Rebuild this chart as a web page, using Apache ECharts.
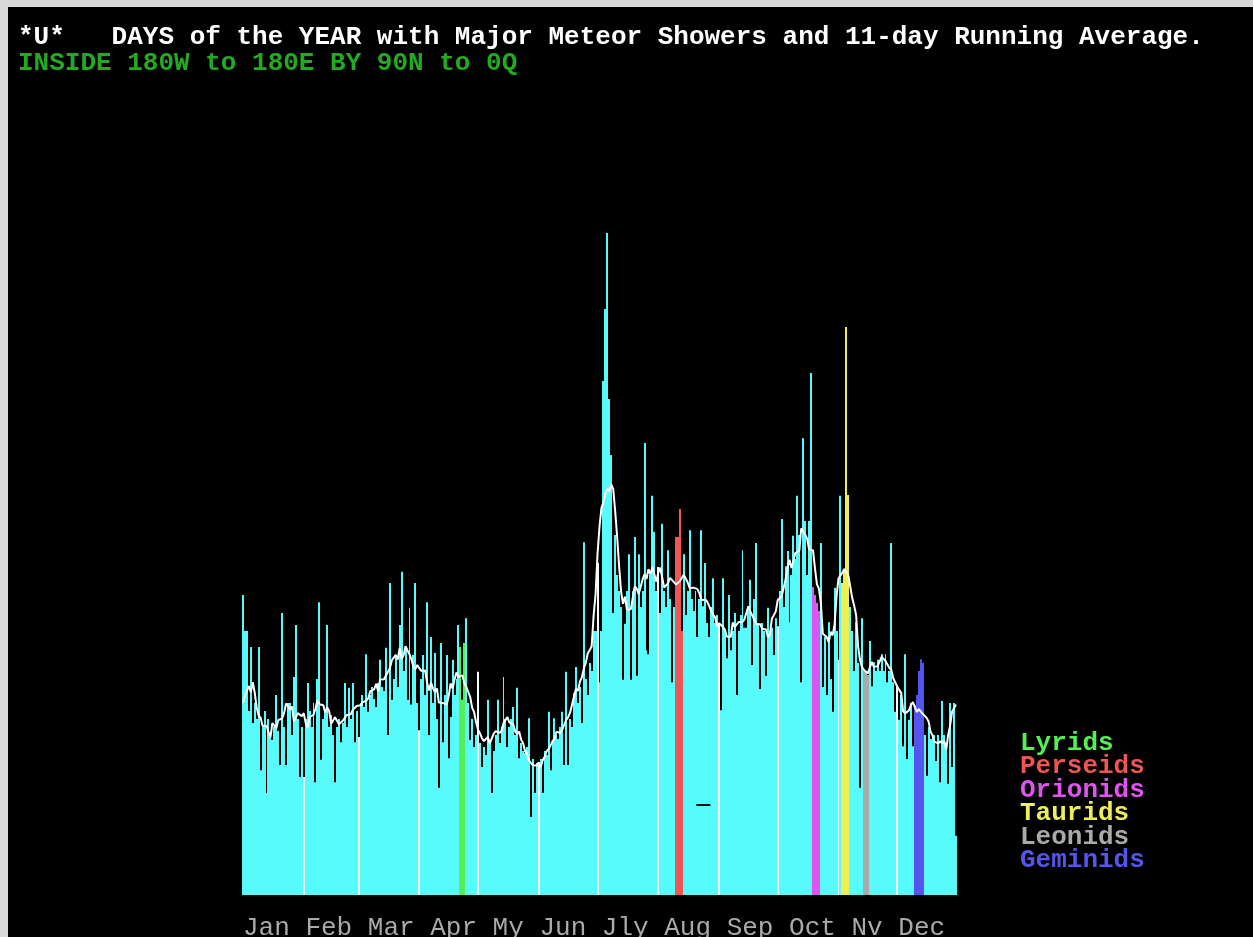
<!DOCTYPE html>
<html>
<head>
<meta charset="utf-8">
<script src="https://cdn.jsdelivr.net/npm/echarts/dist/echarts.min.js"></script>
<style>
  html, body { margin: 0; padding: 0; background: #d9d9d9; overflow: hidden; }
  #chart { position: absolute; left: 8px; top: 7px; width: 1245px; height: 930px; background: #000; }
</style>
</head>
<body>
<div id="chart"></div>
<script>
// Month tick labels (as printed on the original DOS chart) and month lengths
const monthLabels = ['Jan', 'Feb', 'Mar', 'Apr', 'My', 'Jun', 'Jly', 'Aug', 'Sep', 'Oct', 'Nv', 'Dec'];
const monthLengths = [31, 28, 31, 30, 31, 30, 31, 31, 30, 31, 30, 31];

// Daily counts, one array per month
const jan = [37.5, 33, 33, 23, 31, 21.5, 24, 22, 31, 15.6, 21, 23, 12.75, 22, 20, 19.4, 21, 25, 20.5, 16.25, 35.25, 21, 16.25, 24, 24, 20, 27.25, 33.75, 22, 14.75, 21];
const feb = [14.75, 22, 26.5, 23, 21, 24, 14.1, 27, 36.6, 16.9, 22, 23, 33.75, 21, 22.5, 20, 14.1, 21, 22, 19.1, 21.5, 26.5, 21, 25.9, 22, 26.5, 19.1, 23];
const mar = [19.75, 24, 25, 23.5, 30.1, 22.9, 25, 26, 24.5, 23.5, 26.5, 29.4, 26, 25.5, 30.9, 20, 39, 24.4, 27, 29.75, 26, 33.75, 40.4, 28, 31, 24.4, 35.9, 23.8, 30, 39, 24];
const apr = [20.6, 27, 30, 25, 36.6, 20, 32.25, 24, 30.25, 22, 13.4, 31.5, 19.1, 25, 30, 17.1, 22.25, 29.4, 25, 27, 33.75, 31, 24.4, 31.5, 34.6, 24, 19.4, 22, 18.5, 20];
const may = [27.9, 19, 16, 18.5, 17.5, 24.4, 19, 12.75, 18, 20, 24.4, 19, 21, 27.25, 22, 18.5, 21, 22, 23.5, 20, 25.9, 17.1, 19, 18, 17.75, 18.5, 22.1, 9.75, 17, 12.75, 16.5];
const jun = [16.25, 17, 12.75, 18, 17.5, 22.9, 15.6, 19, 22.1, 20, 19.5, 21, 22.9, 16.25, 27.9, 16.25, 22, 21, 25.25, 28.5, 24, 26, 21.5, 44.1, 27, 25, 29, 28, 33, 33];
const jul = [41.5, 26.6, 33, 64.25, 73.25, 82.75, 62, 55, 35.25, 45, 40, 38, 36, 26.9, 33.9, 38, 42.6, 26.9, 38, 44.75, 27.4, 42.6, 36, 38, 56.5, 30.6, 30.1, 40, 49.9, 45.4, 38];
const aug = [41, 35.25, 46.4, 38, 36, 43.1, 37, 26.6, 36, 44.75, 44.75, 48.25, 33, 42.6, 35, 38, 45.6, 37, 35.5, 38, 32.25, 37, 45.6, 36.1, 41.5, 34, 32.25, 36, 39.6, 34, 35];
const sep = [33.9, 23.1, 39.6, 33, 29.6, 37.5, 30.6, 33, 35.25, 25, 33, 35, 43.1, 33.4, 33.4, 36, 39.4, 28.75, 37, 44, 34, 25.75, 34, 33, 27.4, 35.9, 33, 33.4, 30, 34.6];
const oct = [33.6, 38, 47, 36, 41.1, 43, 34.1, 40, 44.9, 42, 49.9, 45, 26.6, 57.1, 46.75, 40, 46.75, 65.25, 38.5, 37.5, 36.5, 35.5, 44, 26, 32.25, 25, 34.1, 27, 22.9, 38.4, 33];
const nov = [29.4, 49.9, 39, 40.6, 71, 50, 36, 33, 28, 34.1, 29, 13.4, 34.6, 28, 28, 27.5, 31.75, 26.1, 29.1, 28, 29.4, 28, 30.1, 28, 30.1, 26.6, 28, 44, 26.6, 22.9];
const dec = [26, 21.9, 25, 18.6, 30.1, 17, 21.9, 24, 18.6, 23.75, 25, 28, 29.4, 29, 20, 14.9, 21, 19.5, 20, 20, 16.75, 20, 14.1, 24.25, 20, 19, 13.9, 24, 16, 24, 7.4];

// Major meteor showers: month (1-12) and the days of that month they are marked on
const lyrids   = { name: 'Lyrids',   color: '#55ee55', month: 4,  days: [22, 23, 24] };
const perseids = { name: 'Perseids', color: '#ee5555', month: 8,  days: [10, 11, 12, 13] };
const orionids = { name: 'Orionids', color: '#dd55ee', month: 10, days: [19, 20, 21, 22] };
const taurids  = { name: 'Taurids',  color: '#eeee55', month: 11, days: [3, 4, 5, 6] };
const leonids  = { name: 'Leonids',  color: '#aaaaaa', month: 11, days: [14, 15, 16] };
const geminids = { name: 'Geminids', color: '#5555ee', month: 12, days: [10, 11, 12, 13, 14] };
const showers = [lyrids, perseids, orionids, taurids, leonids, geminids];

// Small dark dash drawn inside the August bars: [day index, value]
const dashMark = [235, 11.25];

const RUN_WINDOW = 11;
const FONT = "'Liberation Mono', 'DejaVu Sans Mono', monospace";
const CYAN = '#58fbfb';

// ---- assemble the year ----
const daily = [].concat(jan, feb, mar, apr, may, jun, jul, aug, sep, oct, nov, dec);
const monthStart = [];
let acc = 0;
monthLengths.forEach(n => { monthStart.push(acc); acc += n; });
const monthStartSet = new Set(monthStart.slice(1));
const dayNames = [];
monthLengths.forEach((n, m) => { for (let d = 1; d <= n; d++) dayNames.push(monthLabels[m] + ' ' + d); });

// 11-day running average, wrapping around the year end
const half = (RUN_WINDOW - 1) / 2;
const runAvg = daily.map((_, i) => {
  let s = 0;
  for (let k = -half; k <= half; k++) s += daily[(i + k + daily.length) % daily.length];
  return +(s / RUN_WINDOW).toFixed(2);
});

function dayIndex(month, day) { return monthStart[month - 1] + day - 1; }

// One column per day, snapped to whole pixels so neighbouring days butt together cleanly;
// the first day of each month is drawn as a white divider column
function barRenderer(fill, markMonths) {
  return function (params, api) {
    const i = api.value(0);
    const v = api.value(1);
    const top = api.coord([i, v]);
    const base = api.coord([i, 0]);
    const w = api.size([1, 0])[0];
    const x0 = Math.round(top[0] - w / 2);
    const x1 = Math.round(top[0] + w / 2);
    const isDivider = markMonths && monthStartSet.has(i);
    return {
      type: 'rect',
      shape: { x: x0, y: top[1], width: Math.max(1, x1 - x0), height: base[1] - top[1] },
      style: { fill: isDivider ? '#f4ffff' : fill }
    };
  };
}

const series = [{
  name: 'Days',
  type: 'custom',
  renderItem: barRenderer(CYAN, true),
  encode: { x: 0, y: 1 },
  data: daily.map((v, i) => [i, v]),
  z: 2,
  markPoint: {
    silent: true,
    symbol: 'rect',
    symbolSize: [14, 2],
    itemStyle: { color: '#101010' },
    label: { show: false },
    data: [{ coord: dashMark }]
  }
}];

showers.forEach(s => {
  series.push({
    name: s.name,
    type: 'custom',
    renderItem: barRenderer(s.color, false),
    encode: { x: 0, y: 1 },
    itemStyle: { color: s.color },
    data: s.days.map(d => { const i = dayIndex(s.month, d); return [i, daily[i]]; }),
    z: 3
  });
});

series.push({
  name: '11-day Running Average',
  type: 'line',
  data: runAvg,
  symbol: 'none',
  lineStyle: { color: '#ffffff', width: 2 },
  z: 5
});

const chart = echarts.init(document.getElementById('chart'), null, { renderer: 'canvas' });
chart.setOption({
  backgroundColor: '#000000',
  animation: false,
  textStyle: { fontFamily: FONT },
  title: {
    text: '*U*   DAYS of the YEAR with Major Meteor Showers and 11-day Running Average.',
    subtext: 'INSIDE 180W to 180E BY 90N to 0Q',
    left: 5,
    top: 14,
    padding: 5,
    itemGap: 0,
    textStyle: { color: '#ffffff', fontFamily: FONT, fontSize: 26, fontWeight: 'bold', lineHeight: 23 },
    subtextStyle: { color: '#22aa22', fontFamily: FONT, fontSize: 26, fontWeight: 'bold', lineHeight: 23 }
  },
  legend: {
    orient: 'vertical',
    left: 1002,
    top: 718,
    icon: 'rect',
    itemWidth: 0,
    itemHeight: 0,
    itemGap: -2.5,
    selectedMode: false,
    textStyle: { fontFamily: FONT, fontSize: 26, fontWeight: 'bold', lineHeight: 23 },
    data: showers.map(s => ({ name: s.name, textStyle: { color: s.color } }))
  },
  grid: { left: 234, right: 296, top: 88, bottom: 42, outerBoundsMode: 'none', containLabel: false },
  xAxis: {
    type: 'category',
    data: dayNames,
    boundaryGap: true,
    axisLine: { show: false },
    axisTick: { show: false },
    splitLine: { show: false },
    axisLabel: {
      interval: (idx) => idx === 0,
      formatter: () => monthLabels.join(' '),
      align: 'left',
      margin: 20,
      color: '#aaaaaa',
      fontFamily: FONT,
      fontSize: 26
    }
  },
  yAxis: {
    type: 'value',
    min: 0,
    max: 100,
    show: false,
    splitLine: { show: false }
  },
  series: series
});
</script>
</body>
</html>
